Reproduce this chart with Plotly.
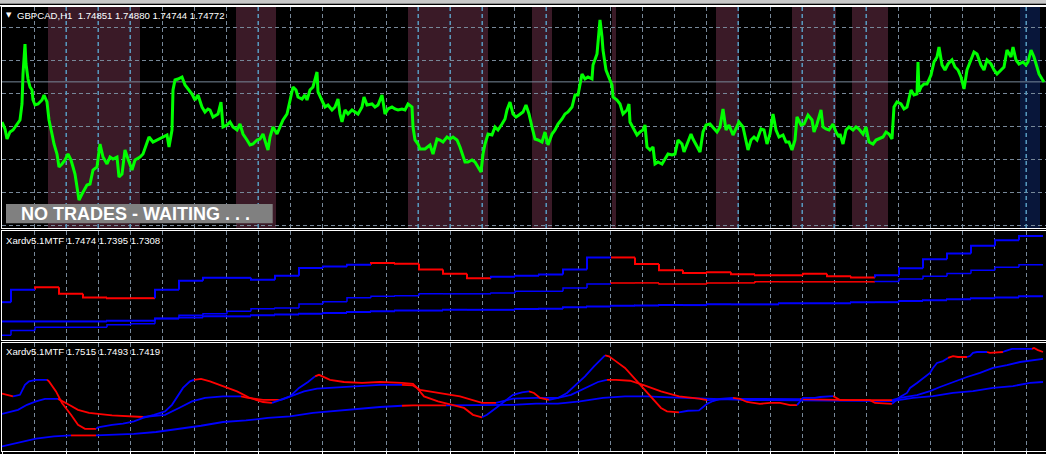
import plotly.graph_objects as go

W, H = 1046, 454

# ---------------- Panel 1 : GBPCAD H1 ----------------
title_main = "GBPCAD,H1  1.74851 1.74880 1.74744 1.74772"
bid_price = 1.74772
price_bar = [2,5,7,10,13,17,20,22,23,25,26,28,30,32,33,35,38,42,44,47,49,52,54,57,59,62,65,68,71,73,75,77,79,82,84,87,90,93,97,100,
             103,107,110,113,117,119,122,125,128,132,135,140,143,147,149,153,157,160,163,167,169,172,173,175,178,182,185,188,192,195,198,202,205,208,
             210,213,218,221,223,227,230,233,237,240,243,247,250,253,257,260,263,267,268,270,273,277,280,283,287,290,293,296,298,302,305,307,310,313,317,318,
             322,325,328,332,335,338,340,342,345,348,352,355,358,362,364,367,372,375,378,382,385,388,392,395,398,402,405,408,412,413,415,418,
             420,425,430,433,437,440,443,447,450,453,457,460,463,465,468,472,475,478,481,483,485,488,492,495,498,502,505,507,510,513,516,519,523,526,529,
             532,535,538,542,545,548,552,555,558,562,565,568,572,575,578,582,585,588,592,593,597,600,602,603,606,608,612,613,617,620,623,627,629,
             630,633,637,640,643,645,647,650,653,655,658,662,665,668,672,675,678,682,684,687,691,693,697,700,703,706,710,713,717,720,723,726,729,733,736,739,
             743,746,748,751,754,757,761,764,767,770,773,776,779,783,786,789,792,795,797,801,804,808,812,814,817,821,823,826,829,833,836,839,
             840,843,846,849,853,856,859,863,866,869,873,876,879,883,886,889,892,894,897,901,904,907,911,914,917,918,919,921,924,927,931,934,937,939,942,945,948,
             952,955,958,961,964,967,971,974,977,981,984,987,991,994,997,1001,1004,1007,1011,1013,1016,1019,1023,1026,1028,1031,1034,1037,1039,1042,1044]
price_close = [1.7417,1.74065,1.73915,1.7402,1.7405,1.7414,1.7420,1.7444,1.7489,1.7534,1.7504,1.74815,1.74695,1.7465,1.7450,1.74425,1.7444,1.7450,1.74575,1.7447,
               1.7420,1.7399,1.7384,1.7369,1.73495,1.7354,1.7360,1.7369,1.7360,1.73495,1.7339,1.73195,1.7300,1.7309,1.7315,1.73225,1.7324,1.7345,1.73495,1.7384,
               1.73645,1.7354,1.73645,1.73615,1.73645,1.73345,1.7339,1.7375,1.73615,1.7345,1.7360,1.73645,1.7369,1.7384,1.73945,1.7387,1.7390,1.73915,1.73945,1.73975,
               1.73795,1.7405,1.7465,1.7480,1.74815,1.74845,1.74725,1.74665,1.7459,1.7450,1.74575,1.74395,1.7432,1.74365,
               1.7435,1.74245,1.7429,1.7447,1.74095,1.74125,1.7417,1.74095,1.7405,1.7414,1.7399,1.7390,1.73825,1.7384,1.7390,1.73915,1.7399,1.73795,1.7375,1.73945,
               1.74095,1.7399,1.74095,1.7420,1.7429,1.7450,1.74695,1.7465,1.74545,1.74515,1.74575,1.7450,1.7465,1.74695,1.7492,1.7462,
               1.7450,1.74395,1.74425,1.7435,1.74395,1.74515,1.7429,1.7417,1.7435,1.7429,1.7435,1.7432,1.7429,1.74395,1.74545,1.74425,1.7444,1.74395,1.74425,1.74575,
               1.7429,1.74365,1.74395,1.74365,1.7435,1.74365,1.7435,1.7444,1.74395,1.74095,1.7390,1.7384,
               1.73765,1.73765,1.73825,1.7369,1.73915,1.7390,1.7387,1.73945,1.73915,1.73945,1.7390,1.73795,1.73645,1.7357,1.7357,1.7360,1.7357,1.73495,1.7342,1.7369,
               1.7384,1.7399,1.73975,1.74095,1.7405,1.7414,1.74215,1.7435,1.7447,1.7429,1.74245,1.74275,1.7432,1.74425,1.7429,
               1.74095,1.73915,1.7390,1.7387,1.7402,1.73825,1.7399,1.7405,1.7414,1.74215,1.7429,1.7432,1.74395,1.74575,1.74575,1.7489,1.74815,1.74845,1.74815,1.75025,
               1.7519,1.7570,1.75445,1.7525,1.7495,1.74875,1.74725,1.74545,1.7450,1.7444,1.7429,1.7435,1.7444,
               1.7417,1.74095,1.73975,1.7402,1.7405,1.74125,1.73795,1.7375,1.73795,1.7354,1.7357,1.7354,1.73615,1.7369,1.73675,1.7369,1.7390,1.7384,1.7372,1.7384,
               1.7399,1.73915,1.73795,1.7372,1.7402,1.74125,1.7414,1.74095,1.7402,1.74095,1.74365,1.7405,1.74125,1.73975,1.74065,1.7417,
               1.74095,1.7390,1.7375,1.7390,1.73945,1.7390,1.74065,1.7405,1.7384,1.7399,1.7429,1.7405,1.73945,1.73975,1.7387,1.7387,1.7375,1.7390,1.74245,1.74125,
               1.7414,1.74275,1.7420,1.7402,1.7414,1.7435,1.74095,1.74065,1.7405,1.7414,1.7402,1.73945,
               1.7399,1.7384,1.7405,1.74095,1.7405,1.74095,1.74065,1.7399,1.74095,1.7387,1.7384,1.7390,1.73915,1.73945,1.7402,1.7399,1.73915,1.74395,1.7447,1.7444,
               1.74365,1.74395,1.7465,1.74575,1.7459,1.7507,1.7462,1.74695,1.7474,1.7474,1.74875,1.7507,1.75145,1.75295,1.75025,1.7495,1.7504,
               1.7510,1.74995,1.7495,1.74845,1.74665,1.7495,1.75115,1.7522,1.7519,1.75025,1.7495,1.7510,1.7504,1.7495,1.7489,1.7495,1.74995,1.7525,1.75145,1.75295,
               1.7510,1.7504,1.7507,1.75025,1.7507,1.7525,1.75145,1.74995,1.7489,1.74815,1.7477]

# highlighted sessions (bar index ranges)
zone_start = [48, 236, 408, 532, 612, 716, 792, 852]
zone_end = [140, 276, 488, 552, 616, 739, 836, 888]
blue_zone_start = [1020]
blue_zone_end = [1040]
banner_text = "NO TRADES - WAITING . . ."

# ---------------- Panel 2 : Xardv5.1MTF (daily steps) ----------------
title_p2 = "Xardv5.1MTF 1.7474 1.7395 1.7308"
day_start = [0] + list(range(11, 1020, 24))
day_end = day_start[1:] + [1043]
p2_fast = [1.7292,1.7326,1.7333,1.7315,1.7305,1.7303,1.7303,1.7326,1.7351,1.7359,1.7359,1.7354,1.7365,1.7386,1.7390,1.7395,
           1.7400,1.7398,1.7382,1.7370,1.7358,1.7362,1.7365,1.7368,1.7382,1.7415,1.7415,1.7397,1.7380,1.7372,1.7374,1.7369,
           1.7366,1.7366,1.7370,1.7363,1.7360,1.7366,1.7385,1.7410,1.7426,1.7447,1.7462,1.7474]
p2_fast_col = "b" * 2 + "r" * 5 + "b" * 9 + "r" * 5 + "b" * 5 + "r" * 11 + "b" * 7
p2_mid = [1.7201,1.7214,1.7223,1.7223,1.7223,1.7230,1.7233,1.7247,1.7256,1.7260,1.7267,1.7274,1.7276,1.7287,1.7293,1.7304,
          1.7308,1.7310,1.7315,1.7315,1.7315,1.7317,1.7322,1.7322,1.7331,1.7342,1.7345,1.7345,1.7342,1.7342,1.7345,1.7345,
          1.7348,1.7348,1.7348,1.7348,1.7348,1.7349,1.7356,1.7363,1.7371,1.7380,1.7388,1.7395]
p2_mid_col = "b" * 26 + "r" * 11 + "b" * 7
p2_slow = [1.7239,1.7239,1.7239,1.7239,1.7239,1.7241,1.7241,1.7247,1.7250,1.7253,1.7253,1.7256,1.7258,1.7260,1.7262,1.7265,
           1.7267,1.7269,1.7269,1.7271,1.7271,1.7271,1.7273,1.7274,1.7278,1.7280,1.7282,1.7283,1.7284,1.7284,1.7286,1.7286,
           1.7286,1.7289,1.7289,1.7289,1.7292,1.7292,1.7295,1.7297,1.7300,1.7303,1.7305,1.7308]
p2_slow_col = "b" * 44

# ---------------- Panel 3 : Xardv5.1MTF (H4) ----------------
title_p3 = "Xardv5.1MTF 1.7515 1.7493 1.7419"
p3_fast_bar = [2,13,20,25,29,36,47,49,56,62,71,78,85,96,98,112,123,134,143,154,165,172,179,183,190,194,201,210,223,237,250,263,272,
               281,290,299,308,315,319,330,344,362,380,402,413,417,424,438,451,464,473,482,487,496,505,513,522,529,534,540,549,
               558,567,576,585,594,600,605,609,616,625,634,643,652,661,667,679,688,699,
               707,713,720,733,740,747,760,770,780,790,797,800,803,815,820,833,835,840,850,870,875,892,895,900,907,910,917,923,930,933,
               937,943,948,953,958,967,970,973,977,987,990,1003,1005,1012,1032,1034,1038,1043]
p3_fast = [1.7382,1.7373,1.7378,1.7410,1.7421,1.7426,1.7426,1.7421,1.7389,1.7352,1.7314,1.7282,1.7269,1.7269,1.7274,1.7282,1.7286,1.7293,1.7304,1.7314,1.7325,1.7346,1.7378,1.7400,1.7421,1.7426,1.7429,1.7421,1.7405,1.7389,1.7368,1.7355,1.7352,
           1.7362,1.7373,1.7400,1.7419,1.7437,1.7442,1.7426,1.7419,1.7416,1.7419,1.7416,1.7413,1.7400,1.7373,1.7357,1.7346,1.7336,1.7314,1.7306,1.7314,1.7336,1.7357,1.7378,1.7386,1.7389,1.7384,1.7368,1.7362,
           1.7368,1.7384,1.7410,1.7437,1.7469,1.7490,1.7504,1.7501,1.7485,1.7464,1.7432,1.7400,1.7368,1.7336,1.7325,1.7322,1.7327,1.7328,
           1.7349,1.7358,1.7365,1.7368,1.7365,1.7355,1.7349,1.7352,1.7352,1.7345,1.7345,1.7355,1.7368,1.7368,1.7371,1.7374,1.7371,1.7361,1.7361,1.7361,1.7352,1.7349,1.7358,1.7371,1.7384,1.7400,1.7416,1.7432,1.7448,1.7464,
           1.7480,1.7486,1.7496,1.7502,1.7499,1.7499,1.7502,1.7512,1.7515,1.7515,1.7512,1.7515,1.7518,1.7525,1.7525,1.7528,1.7521,1.7515]
p3_fast_col = ("r" * 2 + "b" * 5 + "r" * 7 + "b" * 12 + "r" * 7 + "b" * 5 + "r" * 14 + "b" * 6 + "r" * 3 + "b" * 7 +
               "r" * 9 + "b" * 6 + "r" * 7 + "b" * 5 + "r" * 6 + "b" * 11 + "r" * 3 + "b" * 4 + "r" * 2 + "b" * 3 + "r" * 3)
p3_mid_bar = [2,18,27,36,45,58,60,69,78,89,112,134,143,152,165,179,192,205,223,241,248,263,281,290,304,317,339,357,380,402,
              413,420,438,460,482,496,500,513,536,558,571,585,598,607,616,630,643,661,679,699,707,
              733,800,850,892,900,917,930,940,953,967,980,993,1007,1020,1043]
p3_mid = [1.7317,1.7330,1.7346,1.7357,1.7365,1.7365,1.7362,1.7346,1.7330,1.7320,1.7312,1.7307,1.7307,1.7309,1.7314,1.7336,1.7357,1.7368,1.7373,1.7373,
          1.7368,1.7362,1.7362,1.7373,1.7389,1.7398,1.7402,1.7405,1.7410,1.7410,
          1.7408,1.7394,1.7384,1.7373,1.7352,1.7352,1.7355,1.7366,1.7368,1.7368,1.7378,1.7400,1.7419,1.7426,1.7426,1.7423,1.7410,1.7389,1.7373,1.7366,1.7361,
          1.7365,1.7364,1.7361,1.7361,1.7368,1.7377,1.7390,1.7403,1.7419,1.7435,1.7448,1.7464,1.7473,1.7483,1.7493]
p3_mid_col = ("b" * 6 + "r" * 7 + "b" * 7 + "r" * 3 + "b" * 7 + "r" * 6 + "b" * 8 + "r" * 7 + "b" * 2 + "r" * 2 + "b" * 11)
p3_slow_bar = [2,18,36,54,71,96,116,134,156,179,201,223,246,268,290,313,335,357,380,402,413,446,460,491,513,536,558,580,603,625,647,670,699,
               750,800,892,913,933,953,973,993,1013,1030,1043]
p3_slow = [1.7213,1.7224,1.7238,1.7245,1.7248,1.7248,1.7250,1.7253,1.7259,1.7269,1.7279,1.7291,1.7296,1.7304,1.7309,1.7320,1.7327,1.7333,1.7339,1.7343,
           1.7344,1.7344,1.7344,1.7344,1.7346,1.7350,1.7350,1.7357,1.7368,1.7373,1.7373,1.7370,1.7366,
           1.7361,1.7360,1.7358,1.7368,1.7374,1.7384,1.7390,1.7400,1.7406,1.7416,1.7419]
p3_slow_col = "b" * 5 + "r" + "b" * 14 + "r" * 2 + "b" * 22

# ---------------- styling ----------------
BG = "#000000"
GRID = "#778899"
ZONE_GRID = "#44a2d6"
ZONE_FILL = "#3a1a27"
BLUE_ZONE_FILL = "#08163a"
RED = "#ff0000"
BLUE = "#0000ff"
FONT = "Liberation Sans"
DASH = "4px,3px"
X_LO, X_HI = 2, 1046


def dom(top, bottom):
    return [(H - bottom) / H, (H - top) / H]


P1, P2, P3 = (7, 228), (231, 340), (343, 451)
y1_range = [1.7258, 1.75895]
y2_range = [1.7188, 1.748775]
y3_range = [1.71982, 1.75438]

fig = go.Figure()

# tinted grid lines inside the highlighted sessions (above the zone fill, below the price)
zx, zy = [], []
for s, e in list(zip(zone_start, zone_end)) + list(zip(blue_zone_start, blue_zone_end)):
    g = 34
    while g <= X_HI:
        if s < g < e:
            zx += [g, g, None]
            zy += [y1_range[0], y1_range[1], None]
        g += 32
fig.add_trace(go.Scatter(x=zx, y=zy, mode="lines", xaxis="x", yaxis="y",
                         line=dict(color=ZONE_GRID, width=1, dash=DASH), hoverinfo="skip", showlegend=False))
# bid line
fig.add_trace(go.Scatter(x=[X_LO, X_HI], y=[bid_price, bid_price], mode="lines", xaxis="x", yaxis="y",
                         line=dict(color=GRID, width=1), hoverinfo="skip", showlegend=False))
# price
fig.add_trace(go.Scatter(x=price_bar, y=price_close, mode="lines", xaxis="x", yaxis="y",
                         line=dict(color="#00ff00", width=3), hoverinfo="skip", showlegend=False))


def step_traces(vals, cols, xa, ya, width):
    for ck, colr in (("r", RED), ("b", BLUE)):
        xs, ys = [], []
        for i, (s, e, v, c) in enumerate(zip(day_start, day_end, vals, cols)):
            if c != ck:
                continue
            if i > 0:
                xs += [s, s, e, None]
                ys += [vals[i - 1], v, v, None]
            else:
                xs += [s, e, None]
                ys += [v, v, None]
        fig.add_trace(go.Scatter(x=xs, y=ys, mode="lines", xaxis=xa, yaxis=ya,
                                 line=dict(color=colr, width=width), hoverinfo="skip",
                                 showlegend=False, connectgaps=False))


def colored_line(bars, vals, cols, xa, ya, width):
    n = min(len(bars), len(vals), len(cols))
    for ck, colr in (("r", RED), ("b", BLUE)):
        xs, ys = [], []
        prev_in = False
        for i in range(1, n):
            if cols[i] == ck:
                if not prev_in:
                    xs.append(bars[i - 1])
                    ys.append(vals[i - 1])
                xs.append(bars[i])
                ys.append(vals[i])
                prev_in = True
            else:
                if prev_in:
                    xs.append(None)
                    ys.append(None)
                prev_in = False
        fig.add_trace(go.Scatter(x=xs, y=ys, mode="lines", xaxis=xa, yaxis=ya,
                                 line=dict(color=colr, width=width), hoverinfo="skip",
                                 showlegend=False, connectgaps=False))


step_traces(p2_slow, p2_slow_col, "x2", "y2", 2)
step_traces(p2_mid, p2_mid_col, "x2", "y2", 1.5)
step_traces(p2_fast, p2_fast_col, "x2", "y2", 2)

colored_line(p3_slow_bar, p3_slow, p3_slow_col, "x3", "y3", 1.8)
colored_line(p3_mid_bar, p3_mid, p3_mid_col, "x3", "y3", 1.8)
colored_line(p3_fast_bar, p3_fast, p3_fast_col, "x3", "y3", 1.8)

shapes = []
for s, e in zip(zone_start, zone_end):
    shapes.append(dict(type="rect", xref="x", yref="y domain", x0=s, x1=e, y0=0, y1=1,
                       fillcolor=ZONE_FILL, line=dict(width=0), layer="below"))
for s, e in zip(blue_zone_start, blue_zone_end):
    shapes.append(dict(type="rect", xref="x", yref="y domain", x0=s, x1=e, y0=0, y1=1,
                       fillcolor=BLUE_ZONE_FILL, line=dict(width=0), layer="below"))
# window chrome: toolbar strip and top frame line
shapes.append(dict(type="rect", xref="paper", yref="paper", x0=0, x1=1, y0=(H - 3) / H, y1=1,
                   fillcolor="#c8c8c8", line=dict(width=0), layer="above"))
shapes.append(dict(type="rect", xref="paper", yref="paper", x0=0, x1=1, y0=(H - 4) / H, y1=(H - 3) / H,
                   fillcolor="#8c8c8c", line=dict(width=0), layer="above"))
shapes.append(dict(type="rect", xref="paper", yref="paper", x0=0, x1=1, y0=(H - 6.5) / H, y1=(H - 5) / H,
                   fillcolor="#ffffff", line=dict(width=0), layer="above"))
# banner box
shapes.append(dict(type="rect", xref="paper", yref="paper", x0=6 / W, x1=272.7 / W,
                   y0=(H - 223.3) / H, y1=(H - 204) / H, fillcolor="#808080", line=dict(width=0), layer="above"))

annotations = [
    dict(text="▼", xref="paper", yref="paper", x=4 / W, y=(H - 15.5) / H, xanchor="left", yanchor="middle",
         showarrow=False, font=dict(family="DejaVu Sans", size=7, color="#ffffff")),
    dict(text=title_main, xref="paper", yref="paper", x=15 / W, y=(H - 15.5) / H, xanchor="left", yanchor="middle",
         showarrow=False, font=dict(family=FONT, size=9.6, color="#ffffff")),
    dict(text=title_p2, xref="paper", yref="paper", x=4 / W, y=(H - 240.5) / H, xanchor="left", yanchor="middle",
         showarrow=False, font=dict(family=FONT, size=9.6, color="#ffffff")),
    dict(text=title_p3, xref="paper", yref="paper", x=4 / W, y=(H - 351.5) / H, xanchor="left", yanchor="middle",
         showarrow=False, font=dict(family=FONT, size=9.6, color="#ffffff")),
    dict(text="<b>" + banner_text + "</b>", xref="paper", yref="paper", x=135.5 / W, y=(H - 214) / H,
         xanchor="center", yanchor="middle", showarrow=False,
         font=dict(family=FONT, size=18, color="#ffffff")),
]

xcommon = dict(range=[X_LO, X_HI], domain=[2 / W, 1], showline=True, linecolor="#ffffff", linewidth=1,
               mirror=True, zeroline=False, showticklabels=False,
               tick0=2, dtick=64, showgrid=True, gridcolor=GRID, gridwidth=1, griddash=DASH,
               minor=dict(tick0=34, dtick=64, showgrid=True, gridcolor=GRID, gridwidth=1, griddash=DASH))
ycommon = dict(showline=True, linecolor="#ffffff", linewidth=1, mirror=False, zeroline=False,
               showticklabels=False, ticks="")

fig.update_layout(
    width=W, height=H, margin=dict(l=0, r=0, t=0, b=0),
    paper_bgcolor=BG, plot_bgcolor=BG, showlegend=False,
    xaxis=dict(xcommon, anchor="y", ticks=""),
    xaxis2=dict(xcommon, anchor="y2", matches="x", ticks=""),
    xaxis3=dict(xcommon, anchor="y3", matches="x", ticks="outside", ticklen=3, tickcolor="#ffffff", tickwidth=1),
    yaxis=dict(ycommon, domain=dom(*P1), range=y1_range, anchor="x", showgrid=True, gridcolor=GRID,
               gridwidth=1, griddash=DASH, tick0=1.7460, dtick=0.00497),
    yaxis2=dict(ycommon, domain=dom(*P2), range=y2_range, anchor="x2", showgrid=False),
    yaxis3=dict(ycommon, domain=dom(*P3), range=y3_range, anchor="x3", showgrid=False),
    shapes=shapes, annotations=annotations,
)

fig.write_html("out.html", config={"displayModeBar": False, "staticPlot": True},
               post_script="document.body.style.margin='0px';document.body.style.background='#000';")
